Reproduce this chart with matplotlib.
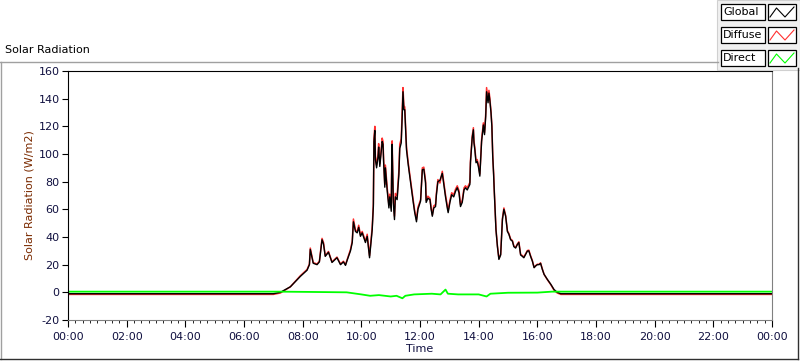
import matplotlib
matplotlib.use('Agg')
import matplotlib.pyplot as plt
from matplotlib.lines import Line2D
from matplotlib.patches import Rectangle

plt.rcParams['axes.unicode_minus'] = False

# Время (часы) и значения
hours = [0.0, 7.0, 7.24, 7.58, 7.92, 8.15, 8.23, 8.26, 8.36, 8.49, 8.57, 8.66, 8.71, 8.77, 8.88,
         9.00, 9.17, 9.29, 9.39, 9.46, 9.53, 9.63, 9.69, 9.73, 9.80, 9.86, 9.91, 9.97, 10.03,
         10.14, 10.20, 10.28, 10.37, 10.41, 10.43, 10.46, 10.48, 10.52, 10.57, 10.59, 10.63,
         10.68, 10.71, 10.74, 10.76, 10.80, 10.82, 10.88, 10.94, 10.97, 11.02, 11.03, 11.05,
         11.09, 11.13, 11.16, 11.22, 11.28, 11.31, 11.36, 11.39, 11.42, 11.45, 11.48, 11.50,
         11.54, 11.60, 11.65, 11.70, 11.77, 11.82, 11.88, 11.93, 12.02, 12.08, 12.13, 12.19,
         12.21, 12.27, 12.34, 12.38, 12.42, 12.47, 12.53, 12.56, 12.61, 12.68, 12.76, 12.81,
         12.87, 12.93, 12.96, 13.02, 13.08, 13.15, 13.21, 13.27, 13.33, 13.38, 13.44, 13.50,
         13.55, 13.61, 13.70, 13.72, 13.78, 13.82, 13.84, 13.87, 13.91, 13.95, 13.99, 14.04,
         14.07, 14.10, 14.13, 14.16, 14.20, 14.24, 14.27, 14.32, 14.35, 14.38, 14.42, 14.45,
         14.48, 14.51, 14.53, 14.57, 14.59, 14.64, 14.69, 14.75, 14.81, 14.86, 14.92, 14.98,
         15.03, 15.09, 15.15, 15.20, 15.26, 15.32, 15.37, 15.43, 15.49, 15.54, 15.66, 15.71,
         15.77, 15.83, 15.89, 15.94, 16.00, 16.06, 16.11, 16.17, 16.23, 16.34, 16.46, 16.57,
         16.68, 16.80, 24.0]

global_rad = [-1, -1, 0, 4, 11.5, 16, 20, 31, 21, 20, 22, 38, 35, 26, 29,
              21.6, 25, 20, 22, 19.5, 24, 30, 36, 51, 44, 43, 47, 40.5, 43,
              36, 40.5, 25, 45, 62, 109, 117, 96, 90, 98, 105, 91,
              102, 109, 107, 94, 76, 90, 74, 61, 69, 58.6, 81, 107,
              65, 52.6, 69, 67, 85, 104, 108, 125, 145, 132, 132, 122,
              103, 92, 84, 76.6, 65, 57.6, 51, 60, 66, 88.6, 89, 79,
              65, 68, 67, 60, 55, 61, 62, 70.6, 80, 81, 86, 78,
              69, 61, 57.6, 65, 70.6, 69, 73, 75.6, 72, 62, 65, 74,
              75.6, 74, 78, 93.7, 111.7, 117.5, 108, 103, 93.7, 94.6, 91, 84,
              96, 109, 115, 121, 114, 127, 145, 137, 144, 139, 130, 120,
              98, 85, 74, 55, 45, 33, 23.8, 27, 52.6, 60, 55, 44,
              42, 38, 37, 33, 32, 34.6, 36, 27, 26, 25, 29.8, 30,
              26, 22.6, 17.8, 19, 20, 20, 21, 16.6, 13, 9.4, 5.8, 2,
              0, -1, -1]

diffuse_rad = [-1.5, -1.5, -0.5, 4, 12, 16.5, 20.5, 32, 21.5, 20.5, 22.5, 39, 36, 26.5, 29.5,
               22, 25.5, 20.5, 22.5, 20, 24.5, 31, 37, 53, 45, 44, 48.5, 41.5, 44,
               37, 42, 26.5, 47, 64, 111, 120, 98, 92, 100, 107.5, 93,
               104, 111.5, 109, 96, 78, 92, 76, 63, 71, 61, 83.5, 109.5,
               67.5, 55, 71.5, 69.5, 88, 107, 111, 129, 148, 135, 134, 124,
               105, 93.5, 85.5, 78, 66.5, 59, 52.5, 61.5, 67, 90, 90.5, 80.5,
               66.5, 69.5, 68, 61, 56, 62.5, 63.5, 72, 81.5, 79, 87.5, 79.5,
               70.5, 62.5, 59, 66.5, 72, 70.5, 74.5, 77, 73.5, 63.5, 66.5, 75.5,
               77, 75.5, 79.5, 95, 113, 119, 109.5, 104.5, 95, 96, 92.5, 85.5,
               97.5, 110.5, 116.5, 122.5, 115.5, 129, 148, 139, 146, 140.5, 131, 121,
               99, 86, 75, 56, 46, 33.5, 24.5, 27.5, 53.5, 61, 55.5, 44.5,
               42.5, 38.5, 37.5, 33.5, 32.5, 35, 36.5, 27.5, 26.5, 25.5, 30.2, 30.5,
               26.5, 23, 18, 19.3, 20.3, 20.3, 21.3, 17, 13, 9.2, 5.5, 1.5,
               -0.5, -1.5, -1.5]

direct_hours = [0.0, 7.2, 8.2, 9.5, 10.0, 10.3, 10.6, 11.0, 11.2, 11.4, 11.5, 11.8, 12.4,
                12.7, 12.87, 12.95, 13.3, 14.0, 14.27, 14.4, 15.0, 16.0, 16.5, 24.0]
direct_rad = [0.5, 0.5, 0.3, 0, -1.5, -2.5, -2.0, -3, -2.5, -4.3, -2.5, -1.5, -1.0,
              -1.5, 2, -1, -1.5, -1.5, -3, -1, -0.3, -0.2, 0.5, 0.5]

tick_hours = [0, 2, 4, 6, 8, 10, 12, 14, 16, 18, 20, 22, 24]
tick_labels = ['00:00', '02:00', '04:00', '06:00', '08:00', '10:00', '12:00',
               '14:00', '16:00', '18:00', '20:00', '22:00', '00:00']
series_names = ['Global', 'Diffuse', 'Direct']
series_colors = ['black', '#ff3030', '#00ff00']

W, H = 800, 361
fig = plt.figure(figsize=(8, 3.61), dpi=100, facecolor='white')


def fx(px):
    return px / W


def fy(py):
    return 1 - py / H


ax = fig.add_axes([fx(68), fy(320), fx(772) - fx(68), fy(71) - fy(320)])
ax.plot(hours, diffuse_rad, color=series_colors[1], linewidth=1.1)
ax.plot(hours, global_rad, color=series_colors[0], linewidth=1.0)
ax.plot(direct_hours, direct_rad, color=series_colors[2], linewidth=1.3)

ax.set_xlim(0, 24)
ax.set_ylim(-20, 160)
ax.set_yticks(range(-20, 161, 20))
ax.set_xticks(tick_hours)
ax.set_xticklabels(tick_labels)
ax.set_xticks([i / 4 for i in range(97)], minor=True)
ax.tick_params(axis='both', labelsize=8, direction='out', colors='black')
ax.tick_params(axis='x', which='major', length=5, pad=4)
ax.tick_params(axis='x', which='minor', length=2.5)
ax.tick_params(axis='y', length=4, pad=2)
for lab in ax.get_xticklabels() + ax.get_yticklabels():
    lab.set_color('#101040')
ax.spines['top'].set_color('black')
ax.spines['left'].set_color('black')
ax.spines['right'].set_color('#808080')
ax.spines['bottom'].set_color('#808080')
ax.set_ylabel('Solar Radiation (W/m2)', fontsize=8, color='#7a2a00', labelpad=3)
ax.set_xlabel('Time', fontsize=8, color='#101040', labelpad=1)

# Внешняя рамка
fig.add_artist(Line2D([fx(0.5), fx(0.5)], [fy(62), fy(359)], color='#a0a0a0', linewidth=1))
fig.add_artist(Line2D([fx(0), fx(718)], [fy(62), fy(62)], color='#a0a0a0', linewidth=1))
fig.add_artist(Line2D([fx(0), fx(798)], [fy(359), fy(359)], color='#303030', linewidth=1))
fig.add_artist(Line2D([fx(798), fx(798)], [fy(68), fy(359)], color='#303030', linewidth=1))
fig.text(fx(5), fy(50), 'Solar Radiation', fontsize=8, va='center', ha='left')

# Легенда
fig.add_artist(Rectangle((fx(717), fy(70)), fx(83), fy(0) - fy(70), facecolor='#f0f0f0',
                         edgecolor='#d0d0d0', linewidth=0.8))
row_top = [4, 27, 50]
for name, col, top in zip(series_names, series_colors, row_top):
    fig.add_artist(Rectangle((fx(721), fy(top + 16)), fx(44), fy(top) - fy(top + 16),
                             facecolor='white', edgecolor='black', linewidth=0.9))
    fig.text(fx(723), fy(top + 8), name, fontsize=8, va='center', ha='left')
    fig.add_artist(Rectangle((fx(768), fy(top + 16)), fx(28), fy(top) - fy(top + 16),
                             facecolor='white', edgecolor='black', linewidth=0.9))
    fig.add_artist(Line2D([fx(770), fx(776.5), fx(785), fx(794)],
                          [fy(top + 13), fy(top + 4), fy(top + 13), fy(top + 3)],
                          color=col, linewidth=0.8))

fig.savefig('out.png', dpi=100, facecolor='white')
